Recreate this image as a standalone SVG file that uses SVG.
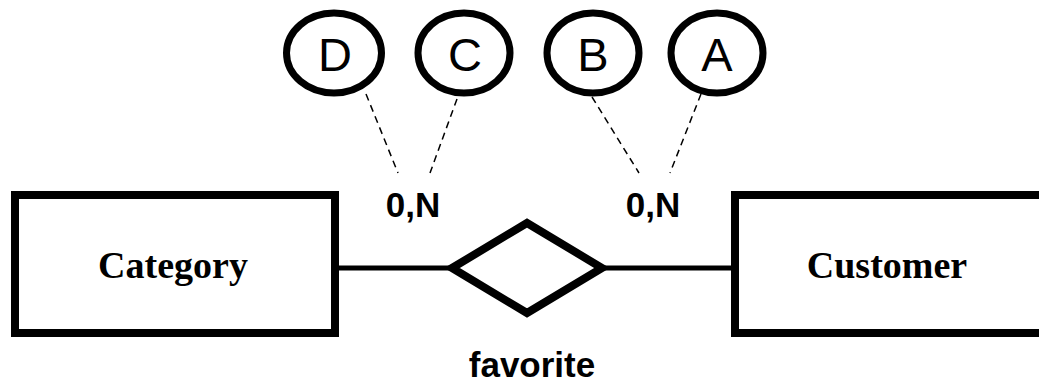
<svg xmlns="http://www.w3.org/2000/svg" width="1039" height="382" viewBox="0 0 1039 382">
<style>
.ent{fill:#fff;stroke:#000;stroke-width:8}
.rel{fill:#fff;stroke:#000;stroke-width:8;stroke-linejoin:miter}
.attr{fill:#fff;stroke:#000;stroke-width:7}
.link{stroke:#000;stroke-width:5;fill:none}
.dash{stroke:#000;stroke-width:1.5;stroke-dasharray:7,5;fill:none}
.et{font-family:"Liberation Serif","Times New Roman",serif;font-weight:bold;font-size:38px;text-anchor:middle}
.at{font-family:"Liberation Sans",Arial,sans-serif;font-size:47px;text-anchor:middle}
.lb{font-family:"Liberation Sans",Arial,sans-serif;font-weight:bold;font-size:35px;text-anchor:middle}
</style>
<rect width="1039" height="382" fill="#fff"/>
<g id="connectors">
<line class="link" x1="335" y1="268" x2="452" y2="268"/>
<line class="link" x1="602" y1="268" x2="735" y2="268"/>
<line class="dash" x1="366" y1="94" x2="398" y2="173"/>
<line class="dash" x1="457" y1="99" x2="430" y2="173"/>
<line class="dash" x1="592" y1="97" x2="639" y2="173"/>
<line class="dash" x1="701" y1="94" x2="670" y2="173"/>
</g>
<g id="category">
<rect class="ent" x="15" y="195" width="320" height="138"/>
<text class="et" x="173" y="278">Category</text>
</g>
<g id="customer">
<rect class="ent" x="735" y="195" width="340" height="138"/>
<text class="et" x="887" y="278">Customer</text>
</g>
<g id="favorite">
<polygon class="rel" points="452,268 527,223 602,268 527,313"/>
<text class="lb" x="532" y="377">favorite</text>
</g>
<g id="attrD">
<ellipse class="attr" cx="334" cy="53" rx="47.5" ry="40"/>
<text class="at" x="335" y="71">D</text>
</g>
<g id="attrC">
<ellipse class="attr" cx="464" cy="53" rx="46" ry="40"/>
<text class="at" x="465" y="71">C</text>
</g>
<g id="attrB">
<ellipse class="attr" cx="593" cy="53" rx="46" ry="40"/>
<text class="at" x="593" y="71">B</text>
</g>
<g id="attrA">
<ellipse class="attr" cx="717" cy="53" rx="46" ry="40"/>
<text class="at" x="717" y="71">A</text>
</g>
<g id="card">
<text class="lb" x="413" y="217">0,N</text>
<text class="lb" x="653" y="217">0,N</text>
</g>
</svg>
